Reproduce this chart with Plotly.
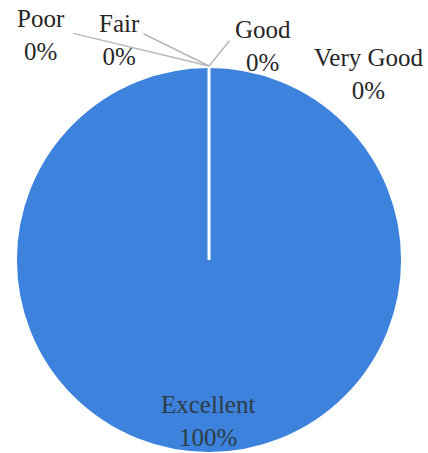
import plotly.graph_objects as go

# Data
categories = ["Poor", "Fair", "Good", "Very Good", "Excellent"]
values = [0, 0, 0, 0, 100]
percent_labels = ["0%", "0%", "0%", "0%", "100%"]

W, H = 428, 453
BLUE = "#3d82dc"
FONT = "Liberation Serif"

# Pie placement (pixels)
pie_left, pie_right, pie_top = 16, 402, 67
dom_x = [pie_left / W, pie_right / W]
dom_y = [0, 1 - pie_top / H]

fig = go.Figure(go.Pie(
    labels=categories,
    values=values,
    sort=False,
    direction="clockwise",
    rotation=0,
    textinfo="none",
    hoverinfo="label+percent",
    marker=dict(colors=[BLUE] * len(categories), line=dict(color="white", width=2)),
    domain=dict(x=dom_x, y=dom_y),
    showlegend=False,
))

# Slice border of the zero-width slices at 12 o'clock (radial white line)
cx = (dom_x[0] + dom_x[1]) / 2
cy = (dom_y[0] + dom_y[1]) / 2
fig.add_shape(type="line", xref="paper", yref="paper",
              x0=cx, y0=cy, x1=cx, y1=dom_y[1],
              line=dict(color="white", width=3))

# Label placement (pixel centres of label blocks) - layout only
label_pos = {
    "Poor": (41, 35),
    "Fair": (119, 40),
    "Good": (263, 46),
    "Very Good": (369, 74),
    "Excellent": (208, 421),
}
leader_start = {
    "Poor": (72, 33),
    "Fair": (142, 33),
    "Good": (231, 39),
}
tip = (209, 66)

annotations = []
for cat, pct in zip(categories, percent_labels):
    lx, ly = label_pos[cat]
    color = "#2e3d46" if cat == "Excellent" else "#262626"
    annotations.append(dict(
        x=lx / W, y=1 - ly / H, xref="paper", yref="paper",
        text=f"{cat}<br>{pct}", showarrow=False, xanchor="center", yanchor="middle",
        font=dict(family=FONT, size=25, color=color),
    ))
    if cat in leader_start:
        sx, sy = leader_start[cat]
        annotations.append(dict(
            x=tip[0] / W, y=1 - tip[1] / H, xref="paper", yref="paper",
            ax=sx - tip[0], ay=sy - tip[1], axref="pixel", ayref="pixel",
            text=" ", font=dict(size=1), showarrow=True, arrowhead=0,
            arrowwidth=1.5, arrowcolor="#b4b8bc", standoff=0, startstandoff=0,
        ))

fig.update_layout(
    width=W, height=H,
    margin=dict(l=0, r=0, t=0, b=0),
    paper_bgcolor="white", plot_bgcolor="white",
    annotations=annotations,
)

fig.write_html("out.html", config={"displayModeBar": False},
               post_script="document.body.style.margin='0';")
